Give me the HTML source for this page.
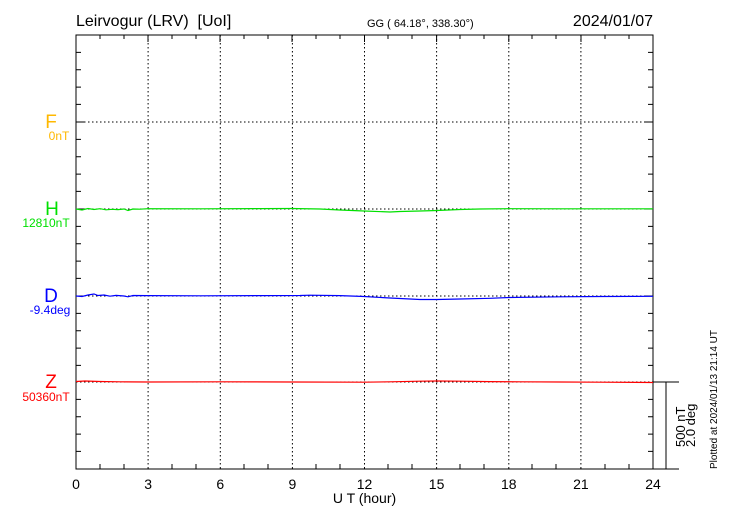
<!DOCTYPE html>
<html><head><meta charset="utf-8"><style>
html,body{margin:0;padding:0;background:#fff;}
svg{display:block;font-family:"Liberation Sans",sans-serif;}
</style></head><body>
<svg width="730" height="520" viewBox="0 0 730 520" xmlns="http://www.w3.org/2000/svg">
<rect width="730" height="520" fill="#fff"/>
<text x="76" y="26" font-size="16" fill="#000" style="white-space:pre">Leirvogur (LRV)  [UoI]</text>
<text x="367" y="27" font-size="11" fill="#000">GG ( 64.18°, 338.30°)</text>
<text x="653" y="26" font-size="16" fill="#000" text-anchor="end">2024/01/07</text>
<g stroke="#000" stroke-width="1" stroke-dasharray="1.5,2.5" fill="none">
<line x1="148.1" y1="35" x2="148.1" y2="469"/>
<line x1="220.3" y1="35" x2="220.3" y2="469"/>
<line x1="292.4" y1="35" x2="292.4" y2="469"/>
<line x1="364.5" y1="35" x2="364.5" y2="469"/>
<line x1="436.6" y1="35" x2="436.6" y2="469"/>
<line x1="508.8" y1="35" x2="508.8" y2="469"/>
<line x1="580.9" y1="35" x2="580.9" y2="469"/>
<line x1="76" y1="122" x2="653" y2="122"/>
<line x1="76" y1="209" x2="653" y2="209"/>
<line x1="76" y1="296" x2="653" y2="296"/>
<line x1="76" y1="382" x2="653" y2="382"/>
</g>
<g stroke="#000" stroke-width="1" fill="none">
<rect x="76" y="35" width="577" height="434"/>
<path d="
M100,35v4M124,35v4M172,35v4M196,35v4M244,35v4M268,35v4M316,35v4M340,35v4M388,35v4M412,35v4M460,35v4M484,35v4M532,35v4M556,35v4M605,35v4M629,35v4
M148,35v7M220,35v7M292,35v7M364.5,35v7M436.6,35v7M508.8,35v7M581,35v7
M100,469v-5M124,469v-5M172,469v-5M196,469v-5M244,469v-5M268,469v-5M316,469v-5M340,469v-5M388,469v-5M412,469v-5M460,469v-5M484,469v-5M532,469v-5M556,469v-5M605,469v-5M629,469v-5
M76,52.4h5M76,69.7h5M76,87.1h5M76,104.4h5M76,139.4h5M76,156.7h5M76,174.1h5M76,191.4h5M76,226.4h5M76,243.7h5M76,261.1h5M76,278.4h5M76,313.4h5M76,330.7h5M76,348.1h5M76,365.4h5M76,399.4h5M76,416.7h5M76,434.1h5M76,451.4h5
M653,52.4h-5M653,69.7h-5M653,87.1h-5M653,104.4h-5M653,139.4h-5M653,156.7h-5M653,174.1h-5M653,191.4h-5M653,226.4h-5M653,243.7h-5M653,261.1h-5M653,278.4h-5M653,313.4h-5M653,330.7h-5M653,348.1h-5M653,365.4h-5M653,399.4h-5M653,416.7h-5M653,434.1h-5M653,451.4h-5
M76,122h8M653,122h-8M76,209h8M653,209h-8M76,296h8M653,296h-8
M653,382h26M653,469h26M666,382v87"/>
</g>
<polyline fill="none" stroke="#00e000" stroke-width="1.2" points="76,209 82,210 88,208.5 94,209.5 100,208.7 106,209.8 112,209.3 118,209.6 124,209 128,210.5 133,209 140,209.2 148,208.7 200,208.8 260,208.6 292,208.5 320,209 340,210 364,211 390,212 400,211.5 420,211 437,210.5 460,209.5 480,209 509,208.7 560,208.8 600,208.8 653,208.8"/>
<polyline fill="none" stroke="#0000ff" stroke-width="1.2" points="76,296 82,296.5 88,295 94,294 98,295.5 104,295 110,296.2 116,295.4 124,296 128,296.8 133,295.5 148,295.6 200,295.8 260,295.6 300,295.5 310,295.2 340,295.6 364,296.5 390,298 420,299.5 437,299.5 460,299 490,298.3 509,297.5 560,296.8 600,296.5 653,296.3"/>
<polyline fill="none" stroke="#ff0000" stroke-width="1.2" points="76,381.5 85,381 100,381.5 120,381.8 148,382 220,381.8 292,382 364,382.2 390,381.8 420,381.2 437,381 460,381.2 490,381.6 520,381.8 560,382 600,382.2 653,382.5"/>
<g font-size="14" fill="#000" text-anchor="middle">
<text x="76" y="489">0</text><text x="148.1" y="489">3</text><text x="220.3" y="489">6</text><text x="292.4" y="489">9</text><text x="364.5" y="489">12</text><text x="436.6" y="489">15</text><text x="508.8" y="489">18</text><text x="580.9" y="489">21</text><text x="653" y="489">24</text>
<text x="364.5" y="503" font-size="14">U T (hour)</text>
</g>
<g text-anchor="middle">
<text x="51" y="128" font-size="19" fill="#ffb800">F</text>
<text x="59" y="140" font-size="12" fill="#ffb800">0nT</text>
<text x="52" y="215" font-size="19" fill="#00e000">H</text>
<text x="46" y="227" font-size="12" fill="#00e000">12810nT</text>
<text x="51" y="302" font-size="19" fill="#0000ff">D</text>
<text x="50" y="314" font-size="12" fill="#0000ff">-9.4deg</text>
<text x="51" y="388" font-size="19" fill="#ff0000">Z</text>
<text x="46" y="401" font-size="12" fill="#ff0000">50360nT</text>
</g>
<text transform="translate(685,447) rotate(-90)" font-size="13" fill="#000">500 nT</text>
<text transform="translate(695,447) rotate(-90)" font-size="13" fill="#000">2.0 deg</text>
<text transform="translate(717,469) rotate(-90)" font-size="10" fill="#000">Plotted at 2024/01/13 21:14 UT</text>
</svg>
</body></html>
